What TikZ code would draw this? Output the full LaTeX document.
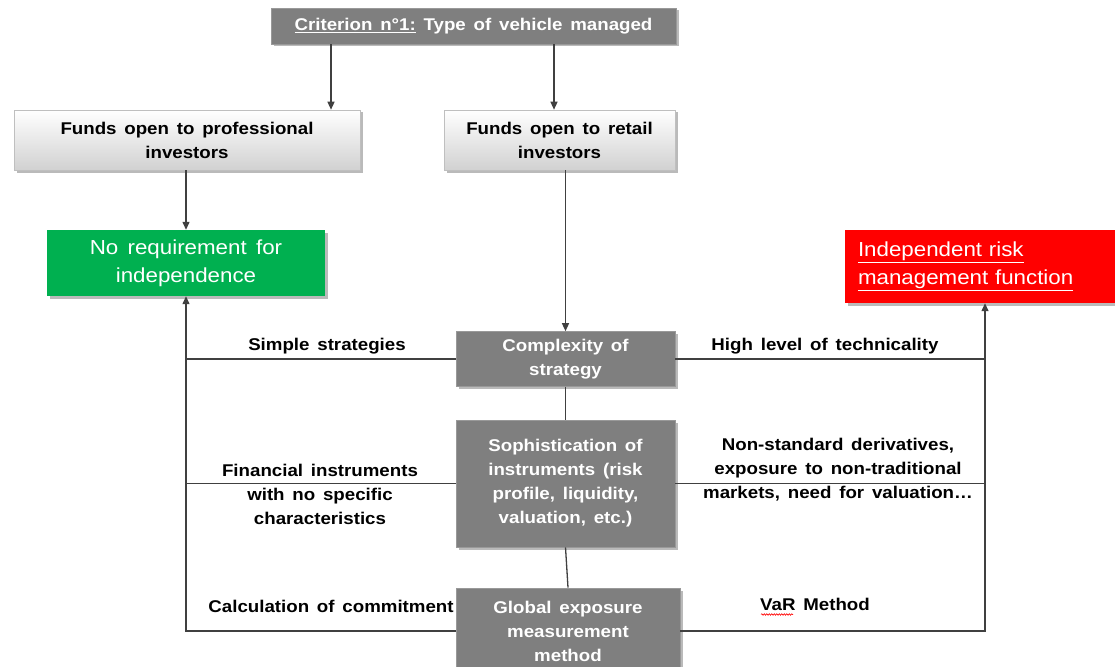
\documentclass[tikz,border=0pt]{standalone}
\usepackage{fontspec}
\setmainfont[WordSpace=1.5,FakeStretch=1.1]{Liberation Sans}
\usetikzlibrary{shadows,arrows.meta,calc,decorations.pathmorphing}
\definecolor{boxgray}{HTML}{7F7F7F}
\definecolor{linegray}{HTML}{404040}
\definecolor{fundgreen}{HTML}{00B050}
\definecolor{fundred}{HTML}{FF0000}
\tikzset{
  shd/.style={drop shadow={shadow xshift=2.5pt,shadow yshift=-2.5pt,opacity=0.45,fill=black!60}},
  darkbox/.style={shd,fill=boxgray,draw=boxgray!80!white,line width=0.6pt,text=white,
     font=\fontsize{17}{24}\selectfont\bfseries,align=center,inner sep=0pt},
  lightbox/.style={shd,top color=white,bottom color=black!18,draw=black!25,line width=0.6pt,
     text=black,font=\fontsize{17}{24}\selectfont\bfseries,align=center,inner sep=0pt},
  resbox/.style={shd,text=white,font=\fontsize{20.3}{28}\selectfont,inner sep=0pt},
  lbl/.style={text=black,font=\fontsize{17}{24}\selectfont\bfseries,align=center,inner sep=0pt},
  conn/.style={draw=linegray,line width=1.3pt},
  arr/.style={conn,-{Triangle[length=8pt,width=7pt]}}
}
\begin{document}
\begin{tikzpicture}[x=1pt,y=-1pt]
\useasboundingbox[fill=white] (0,0) rectangle (1115,666);
% boxes
\node[darkbox,minimum width=405pt,minimum height=36pt] (top) at (473.5,26)
  {\underline{Criterion n°1:} Type of vehicle managed};
\node[lightbox,minimum width=346pt,minimum height=60pt] (prof) at (187,140)
  {Funds open to professional\\investors};
\node[lightbox,minimum width=231pt,minimum height=60pt] (retail) at (559.5,140)
  {Funds open to retail\\investors};
\node[resbox,fill=fundgreen,minimum width=278pt,minimum height=66pt,align=center] (green) at (186,263)
  {No requirement for\\independence};
\node[resbox,fill=fundred,minimum height=73pt,text width=254pt,inner xsep=13pt,align=left] (red) at (985,266.5)
  {\underline{Independent risk}\\\underline{management function}};
\node[darkbox,minimum width=219pt,minimum height=55pt] (cplx) at (565.5,359)
  {Complexity of\\strategy};
\node[darkbox,minimum width=219pt,minimum height=127pt] (soph) at (565.5,483.5)
  {Sophistication of\\instruments (risk\\profile, liquidity,\\valuation, etc.)};
\node[darkbox,minimum width=224pt,minimum height=86pt] (glob) at (568,631)
  {Global exposure\\measurement\\method};
% connectors from top
\coordinate (xa) at (331,0);
\coordinate (xb) at (554,0);
\draw[arr] (top.south -| xa) -- (prof.north -| xa);
\draw[arr] (top.south -| xb) -- (retail.north -| xb);
\draw[arr] (prof.south -| green.north) -- (green.north);
\draw[arr] (retail.south -| cplx.north) -- (cplx.north);
\draw[conn] (cplx.south) -- (soph.north);
\draw[conn] (soph.south) -- (glob.north);
% left side
\draw[arr] (glob.west) -| (green.south);
\draw[conn] (cplx.west) -- (cplx.west -| green.south);
\draw[conn] (soph.west) -- (soph.west -| green.south);
% right side
\draw[arr] (glob.east) -| (red.south);
\draw[conn] (cplx.east) -- (cplx.east -| red.south);
\draw[conn] (soph.east) -- (soph.east -| red.south);
% labels
\node[lbl] (ls) at (327,346) {Simple strategies};
\node[lbl] (lf) at (320,494) {Financial instruments\\with no specific\\characteristics};
\node[lbl] (lc) at (331,606) {Calculation of commitment};
\node[lbl] (lh) at (825,346) {High level of technicality};
\node[lbl] (ln) at (838,470) {Non-standard derivatives,\\exposure to non-traditional\\markets, need for valuation…};
\node[lbl,anchor=base] (lv) at (815,610) {VaR Method};
\draw[fundred,line width=0.6pt,decorate,decoration={snake,amplitude=0.8pt,segment length=2.5pt}]
  ($(lv.base west)+(1,4.5)$) -- ($(lv.base west)+(33,4.5)$);
\end{tikzpicture}
\end{document}
